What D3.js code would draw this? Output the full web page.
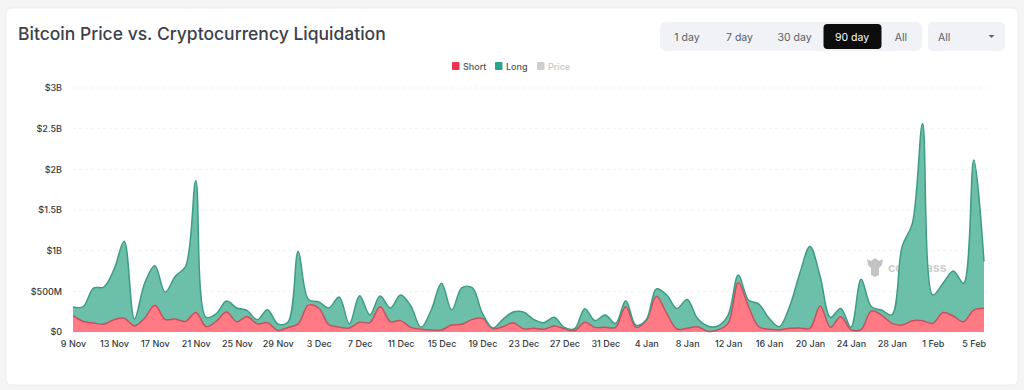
<!DOCTYPE html>
<html>
<head>
<meta charset="utf-8">
<script src="https://cdn.jsdelivr.net/npm/d3@7"></script>
<style>
  html, body { margin: 0; padding: 0; background: #f5f5f5; }
  svg { display: block; font-family: Inter, "Noto Sans", sans-serif; }
</style>
</head>
<body>
<div class="box"></div>
<script>
// values in $M, one per day from 9 Nov
const firstDay = Date.UTC(2024, 10, 9);
const shortVals = [
  200,130,110,95,150,170,75,170,330,155,160,130,240,65,130,245,125,190,100,115,
  20,55,100,330,295,90,60,50,120,115,310,127,140,57,33,25,25,85,95,155,
  168,42,65,115,40,45,33,74,40,16,120,57,57,57,310,57,140,440,228,37,
  45,65,10,25,106,607,310,65,33,29,45,49,45,320,57,188,29,33,260,208,
  106,86,139,139,106,240,196,126,270,293
];
const longVals = [
  108,182,430,458,617,945,85,430,485,335,525,677,1620,115,95,135,170,75,50,160,
  80,65,890,70,75,205,370,50,327,95,133,168,315,263,24,245,575,185,450,390,
  62,6,90,130,205,110,82,106,17,24,167,83,153,48,75,28,10,90,227,253,
  355,103,64,49,102,93,83,279,135,36,265,671,1005,360,123,102,28,617,50,62,
  104,964,1196,2426,349,360,554,474,1845,572
];
const yTicks = [0, 500, 1000, 1500, 2000, 2500, 3000];
const rangeBtns = ['1 day', '7 day', '30 day', '90 day', 'All'];
const legendItems = ['Short', 'Long', 'Price'];

const svg = d3.select('.box')
              .append('svg')
              .attr('width', 1024)
              .attr('height', 390);

// card
svg.append('rect')
   .attr('x', 6).attr('y', 8).attr('width', 1012).attr('height', 377).attr('rx', 5)
   .attr('fill', '#fff').attr('stroke', '#eeeeee');

svg.append('text')
   .attr('x', 18).attr('y', 40)
   .attr('font-size', 17.5).attr('font-weight', 500).attr('fill', '#3c4149')
   .text('Bitcoin Price vs. Cryptocurrency Liquidation');

// range buttons
svg.append('rect')
   .attr('x', 660).attr('y', 22).attr('width', 262).attr('height', 29).attr('rx', 6)
   .attr('fill', '#f0f2f5');
svg.append('rect')
   .attr('x', 823.5).attr('y', 24).attr('width', 58).attr('height', 25).attr('rx', 4)
   .attr('fill', '#0d0d0d');
const btnX = [687, 739.5, 794.5, 852, 901];
svg.selectAll('.btn')
   .data(rangeBtns)
   .enter().append('text')
   .attr('class', 'btn')
   .attr('x', (d, i) => btnX[i]).attr('y', 41)
   .attr('text-anchor', 'middle').attr('font-size', 10.5)
   .attr('fill', d => d === '90 day' ? '#fff' : '#5a6068')
   .text(d => d);

// dropdown
svg.append('rect')
   .attr('x', 928).attr('y', 22).attr('width', 77).attr('height', 29).attr('rx', 5)
   .attr('fill', '#f0f2f5');
svg.append('text')
   .attr('x', 938).attr('y', 41).attr('font-size', 10.5).attr('fill', '#5a6068').text('All');
svg.append('path')
   .attr('d', 'M988.5 35 h6 l-3 3 z').attr('fill', '#666');

// legend
const legendCol = ['#f0324c', '#2aa58a', '#cfcfcf'];
const legendX = [452, 495, 537];
const legendTxt = ['#555', '#555', '#c8c8c8'];
const legend = svg.selectAll('.leg')
   .data(legendItems)
   .enter().append('g')
   .attr('class', 'leg')
   .attr('transform', (d, i) => `translate(${legendX[i]}, 62)`);
legend.append('rect')
   .attr('width', 7.5).attr('height', 8).attr('rx', 1)
   .attr('fill', (d, i) => legendCol[i]);
legend.append('text')
   .attr('x', 11).attr('y', 7.5).attr('font-size', 9).attr('font-weight', 500)
   .attr('fill', (d, i) => legendTxt[i])
   .text(d => d);

// watermark, has to go in before the areas
const mark = svg.append('g').attr('transform', 'translate(875, 267)');
mark.append('path')
    .attr('d', 'M-8 -8 L-4 -6 L0 -9 L4 -6 L8 -8 L7 -2 L4 1 L4 8 L0 10 L-4 8 L-4 1 L-7 -2 Z')
    .attr('fill', '#c4c4c4');
mark.append('text')
    .attr('x', 13).attr('y', 5).attr('font-size', 12.5).attr('font-weight', 700)
    .attr('fill', '#cfcfcf').text('coinglass');

// Dimensions
const margin = {top: 88, left: 73};
const graphWidth = 911;
const graphHeight = 244;

const graph = svg.append('g')
                 .attr('transform', `translate(${margin.left}, ${margin.top})`);

const dayMs = 86400000;
const days = shortVals.map((d, i) => new Date(firstDay + i * dayMs));

const x = d3.scaleUtc()
            .domain([days[0], days[days.length - 1]])
            .range([0, graphWidth]);
const y = d3.scaleLinear()
            .domain([0, 3000])
            .range([graphHeight, 0]);

const axeX = d3.axisBottom(x)
               .tickValues(days.filter((d, i) => i % 4 === 0 && i < 89))
               .tickSize(0)
               .tickPadding(9)
               .tickFormat(d3.utcFormat('%-d %b'));
const axeY = d3.axisLeft(y)
               .tickValues(yTicks)
               .tickSize(0)
               .tickPadding(11)
               .tickFormat(d => d === 0 ? '$0' : d < 1000 ? `$${d}M` : `$${d / 1000}B`);

// grid
graph.selectAll('.grid')
     .data(yTicks.slice(1))
     .enter().append('line')
     .attr('class', 'grid')
     .attr('x1', 0).attr('x2', graphWidth + 4)
     .attr('y1', d => y(d)).attr('y2', d => y(d))
     .attr('stroke', '#f2f3f4').attr('stroke-dasharray', '3 3');

// stacking
const rows = days.map((d, i) => ({day: d, short: shortVals[i], long: longVals[i]}));
const stacked = d3.stack().keys(['short', 'long'])(rows);

const curve = d3.curveCatmullRom.alpha(0.5);
const area = d3.area()
               .curve(curve)
               .x(d => x(d.data.day))
               .y0(d => y(d[0]))
               .y1(d => y(d[1]));
const topLine = d3.line()
               .curve(curve)
               .x(d => x(d.data.day))
               .y(d => y(d[1]));

const fills = ['#ff7a85', '#6cbfa9'];
const strokes = ['#c8505c', '#3d9c85'];

graph.selectAll('.layer')
     .data(stacked)
     .enter().append('path')
     .attr('class', 'layer')
     .attr('d', area)
     .attr('fill', (d, i) => fills[i]);
graph.selectAll('.edge')
     .data(stacked)
     .enter().append('path')
     .attr('class', 'edge')
     .attr('d', topLine)
     .attr('fill', 'none')
     .attr('stroke-width', 1.5)
     .attr('stroke', (d, i) => strokes[i]);

// axes
const groupeX = graph.append('g')
                     .attr('transform', `translate(0, ${graphHeight})`)
                     .call(axeX);
const groupeY = graph.append('g').call(axeY);
[groupeX, groupeY].forEach(g => {
  g.select('.domain').remove();
  g.selectAll('text')
   .style('font-family', 'Inter, "Noto Sans", sans-serif')
   .style('font-size', '9px')
   .style('font-weight', 500)
   .attr('fill', '#333a40');
});
</script>
</body>
</html>
